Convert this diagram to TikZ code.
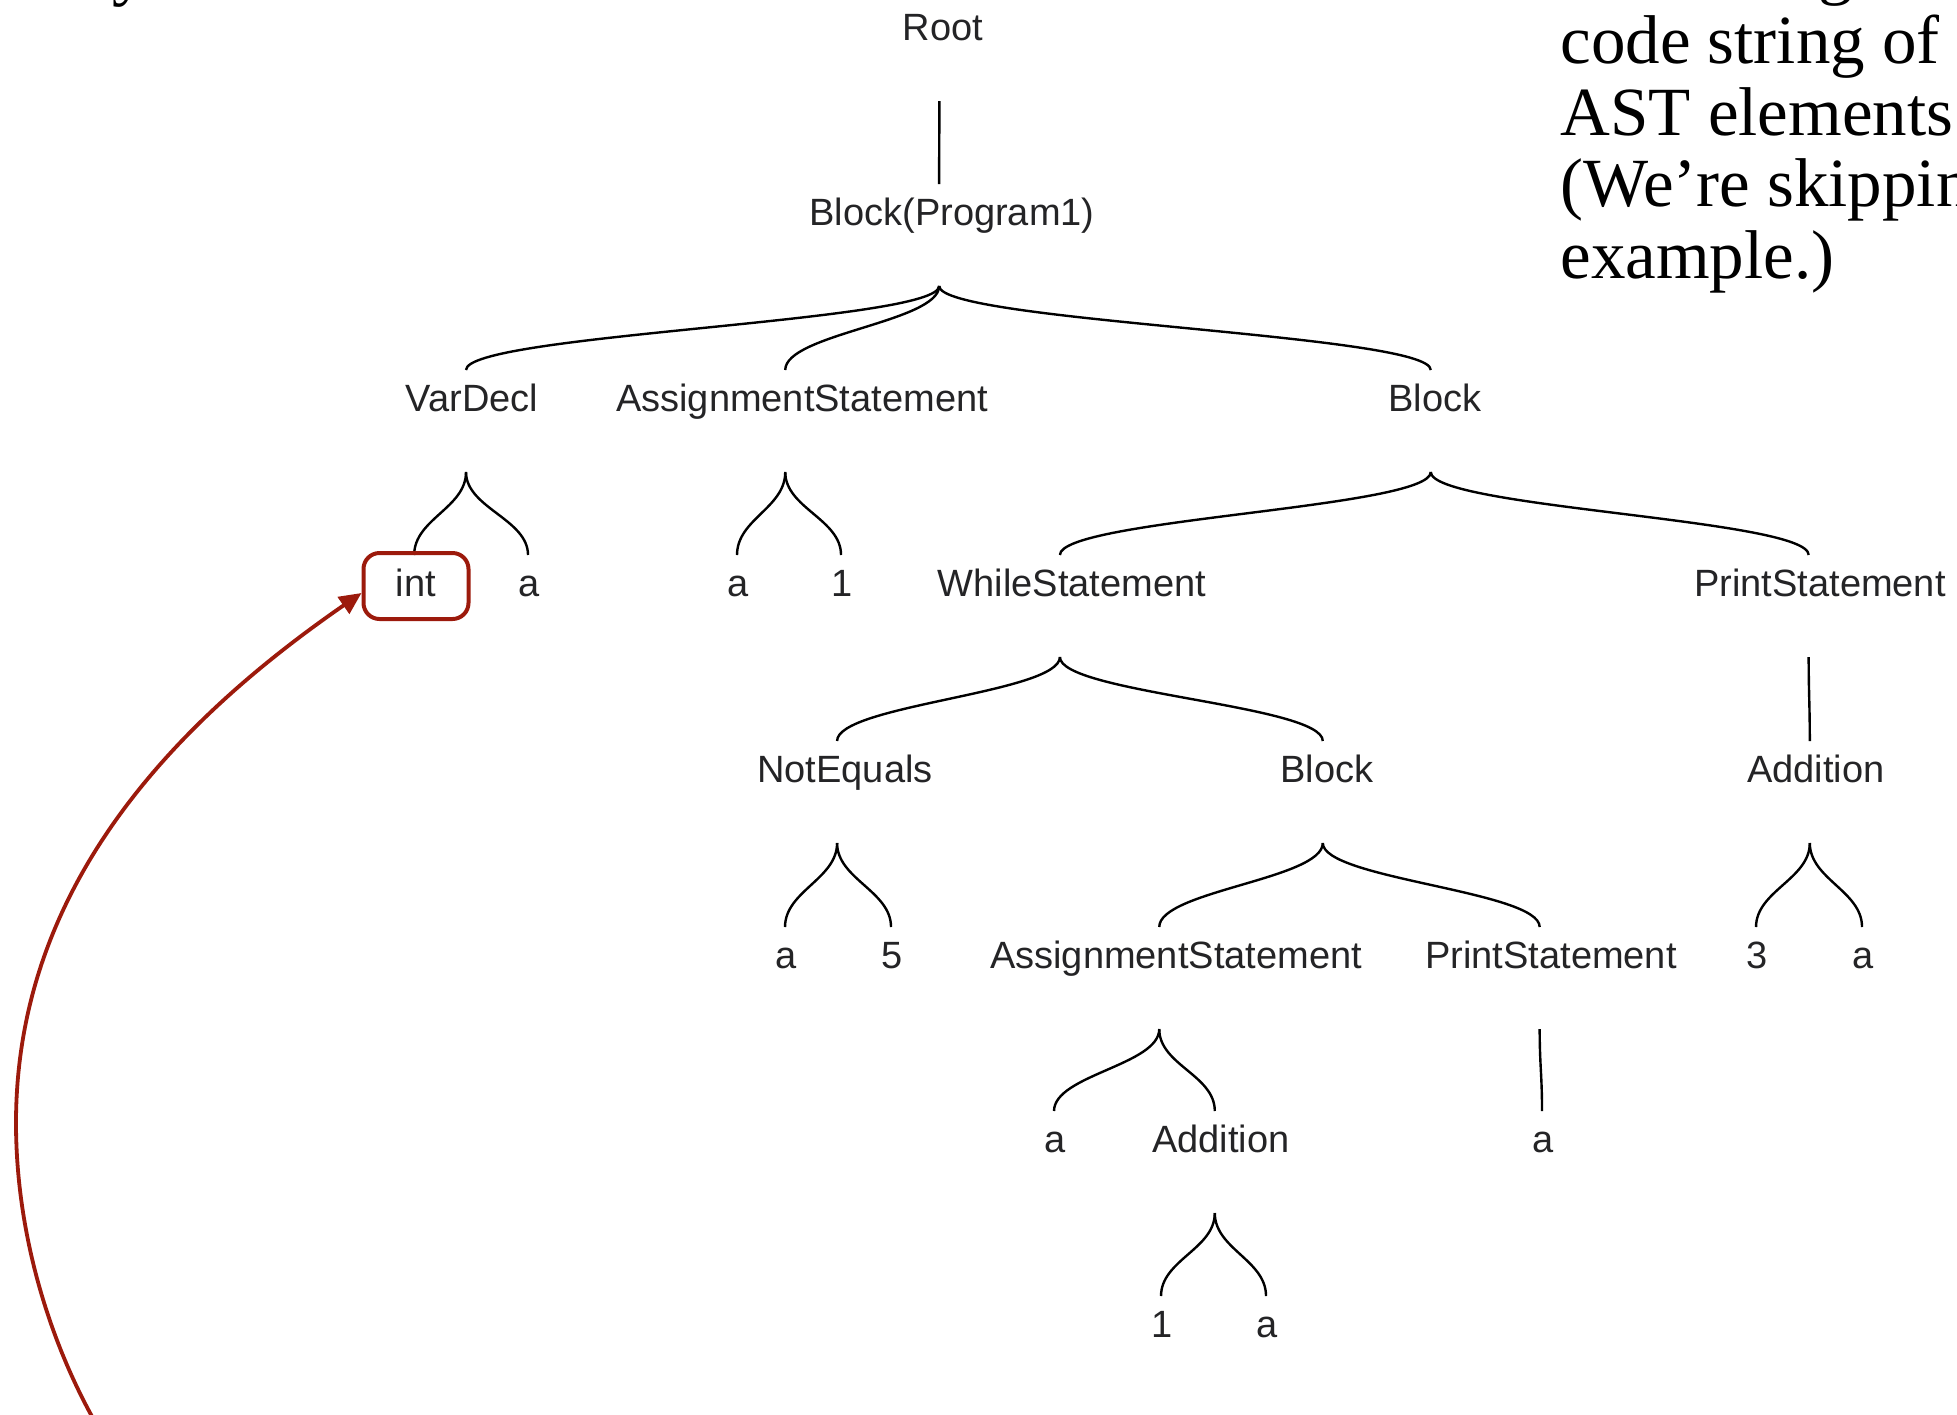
\documentclass[tikz,border=0pt]{standalone}
\usepackage{fontspec}
\usetikzlibrary{calc,arrows.meta}
\newfontfamily\labelfont{Liberation Sans}
\newfontfamily\slidefont{Liberation Serif}
\definecolor{accentred}{RGB}{156,26,12}
\definecolor{labelgray}{RGB}{36,36,38}

% parent-to-child connector: brace-like S curve between attach points
\newcommand\branch[2]{%
  \draw[edge] ($(#1.west)!0.455!(#1.east)+(0,74)$)
    .. controls ($(#1.west)!0.455!(#1.east)+(0,110)$)
    and ($(#2.west)!0.455!(#2.east)+(0,-64)$)
    .. ($(#2.west)!0.455!(#2.east)+(0,-28)$);}

\begin{document}
\begin{tikzpicture}[x=0.5pt,y=-0.5pt,
  lbl/.style={font=\labelfont\fontsize{19}{22}\selectfont, text=labelgray,
    inner sep=0pt, text height=13.5pt, text depth=0pt},
  edge/.style={line width=1.2pt, black},
  prose/.style={font=\slidefont\fontsize{34.5}{36}\selectfont, inner sep=0pt, anchor=base west},
  hlbox/.style={draw=accentred, line width=2pt, rounded corners=8pt,
    minimum width=52.5pt, minimum height=33pt, inner sep=0pt},
  pointer/.style={draw=accentred, line width=1.9pt, -{Triangle[length=11pt,width=10pt]}}
]
\useasboundingbox (0,0) rectangle (1957,1414);
\clip (0,0) rectangle (1957,1414);

% side text (the lines above are cut by the frame)
\node[prose] (frag1) at (112,-8) {y};
\node[prose] (frag2) at (1818,-9) {g};
\node[prose] (line1) at (1560,63) {code string of};
\node[prose] (line2) at (1560,135) {AST elements};
\node[prose] (line3) at (1560,206) {(We’re skipping};
\node[prose] (line4) at (1560,278) {example.)};

% tree labels
\node[lbl] (root)    at (943,27)   {Root};
\node[lbl] (prog)    at (952,212)  {Block(Program1)};
\node[lbl] (vardecl) at (472,398)  {VarDecl};
\node[lbl] (assign1) at (802,398)  {AssignmentStatement};
\node[lbl] (block1)  at (1435,398) {Block};
\node[lbl] (int)     at (416,583)  {int};
\node[lbl] (a1)      at (529,583)  {a};
\node[lbl] (a2)      at (738,583)  {a};
\node[lbl] (one1)    at (842,583)  {1};
\node[lbl] (while)   at (1072,583) {WhileStatement};
\node[lbl] (print1)  at (1820,583) {PrintStatement};
\node[lbl] (noteq)   at (845,769)  {NotEquals};
\node[lbl] (block2)  at (1327,769) {Block};
\node[lbl] (add1)    at (1816,769) {Addition};
\node[lbl] (a3)      at (786,955)  {a};
\node[lbl] (five)    at (892,955)  {5};
\node[lbl] (assign2) at (1176,955) {AssignmentStatement};
\node[lbl] (print2)  at (1551,955) {PrintStatement};
\node[lbl] (three)   at (1757,955) {3};
\node[lbl] (a4)      at (1863,955) {a};
\node[lbl] (a5)      at (1055,1139) {a};
\node[lbl] (add2)    at (1221,1139) {Addition};
\node[lbl] (a6)      at (1543,1139) {a};
\node[lbl] (one2)    at (1162,1324) {1};
\node[lbl] (a7)      at (1267,1324) {a};

% connectors
\foreach \p/\c in {root/prog, prog/vardecl, prog/assign1, prog/block1,
    vardecl/int, vardecl/a1, assign1/a2, assign1/one1,
    block1/while, block1/print1, while/noteq, while/block2, print1/add1,
    noteq/a3, noteq/five, block2/assign2, block2/print2,
    add1/three, add1/a4, assign2/a5, assign2/add2, print2/a6,
    add2/one2, add2/a7}
  {\branch{\p}{\c}}

% highlight and pointer
\node[hlbox] (hl) at ([yshift=-1.5pt]int) {};
\coordinate (tail) at (112,1450);
\coordinate (bend) at (16,1123);
\draw[pointer] (tail) .. controls (60,1370) and (16,1250) .. (bend)
  .. controls (16,900) and (156,735) .. ([yshift=-3.5pt]hl.west);
\end{tikzpicture}
\end{document}
